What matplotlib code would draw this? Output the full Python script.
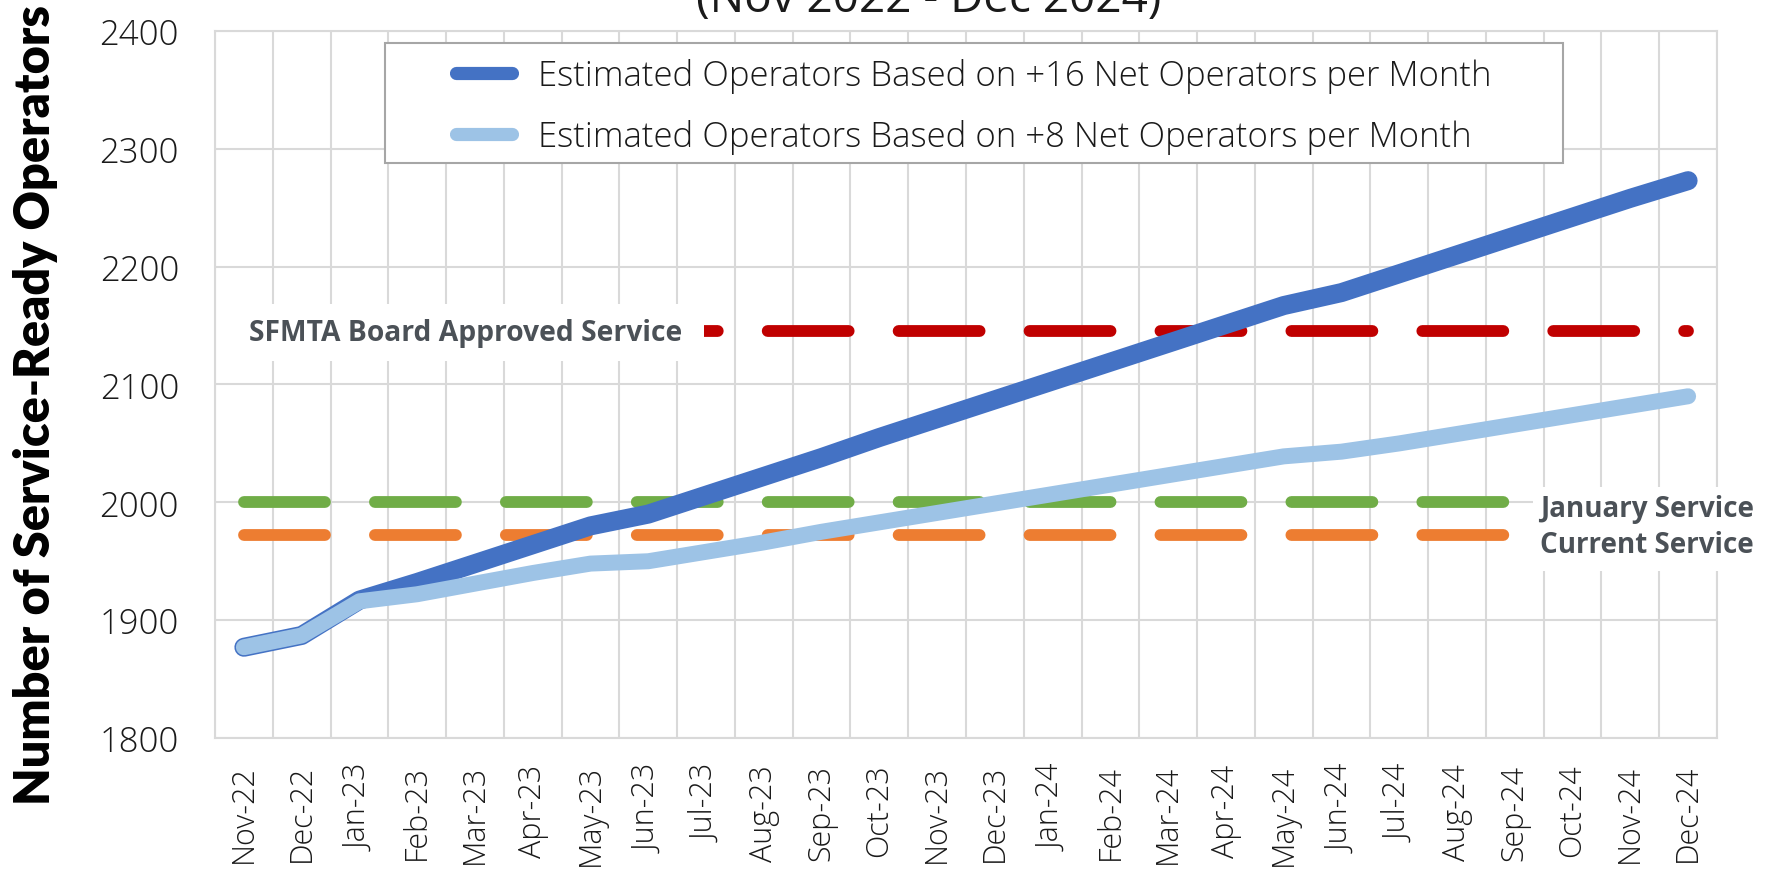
import numpy as np
import matplotlib
matplotlib.use("Agg")
import matplotlib.pyplot as plt
from matplotlib.patches import Rectangle

# data
months = ["Nov-22", "Dec-22", "Jan-23", "Feb-23", "Mar-23", "Apr-23", "May-23",
          "Jun-23", "Jul-23", "Aug-23", "Sep-23", "Oct-23", "Nov-23", "Dec-23",
          "Jan-24", "Feb-24", "Mar-24", "Apr-24", "May-24", "Jun-24", "Jul-24",
          "Aug-24", "Sep-24", "Oct-24", "Nov-24", "Dec-24"]
est_plus16 = [1877, 1887, 1917, 1932, 1948, 1964, 1980, 1990, 2006, 2022, 2038,
              2055, 2071, 2087, 2103, 2119, 2135, 2151, 2167, 2178, 2194, 2210,
              2226, 2242, 2258, 2273]
est_plus8 = [1877, 1887, 1916, 1922, 1931, 1940, 1948, 1950, 1958, 1966, 1975,
             1983, 1991, 1999, 2007, 2015, 2023, 2031, 2039, 2043, 2050, 2058,
             2066, 2074, 2082, 2090]
board_level = 2145
january_level = 2000
current_level = 1972
n_service = 23  # january / current lines stop at Sep-24

label_16 = "Estimated Operators Based on +16 Net Operators per Month"
label_8 = "Estimated Operators Based on +8 Net Operators per Month"

plt.rcParams['font.family'] = ['Open Sans', 'DejaVu Sans']

grid_c = '#d9d9d9'
text_c = '#1a1a1a'
lab_c = '#4b5157'

fig = plt.figure(figsize=(17.71, 8.70), dpi=100)
ax = fig.add_axes([0.1214, 0.1506, 0.8481, 0.8126])
x = np.arange(len(months))

dash = (0, (6.86, 4.23))
ax.plot(x, np.full(len(x), board_level), color='#C00000', lw=8.5, ls=dash,
        dash_capstyle='round', zorder=2)
ax.plot(x[:n_service], np.full(n_service, january_level), color='#70AD47',
        lw=8.5, ls=dash, dash_capstyle='round', zorder=2)
ax.plot(x[:n_service], np.full(n_service, current_level), color='#ED7D31',
        lw=8.5, ls=dash, dash_capstyle='round', zorder=2)
ax.plot(x, est_plus16, color='#4472C4', lw=13.7, solid_capstyle='round',
        solid_joinstyle='round', zorder=3, label=label_16)
ax.plot(x, est_plus8, color='#9DC3E6', lw=11.5, solid_capstyle='round',
        solid_joinstyle='round', zorder=3.1, label=label_8)

ax.set_xlim(-0.5, len(months) - 0.5)
ax.set_ylim(1800, 2400)
ax.set_yticks(np.arange(1800, 2401, 100))
ax.set_xticks(x)
ax.set_xticklabels(months, rotation=90, fontsize=22, fontweight='light', color=text_c)
ax.set_xticks(np.arange(-0.5, len(months)), minor=True)
for t in ax.get_yticklabels():
    t.set_fontsize(25)
    t.set_fontweight('light')
    t.set_color(text_c)
ax.grid(which='minor', axis='x', color=grid_c, lw=1.5)
ax.grid(which='major', axis='y', color=grid_c, lw=1.5)
ax.grid(which='major', axis='x', visible=False)
ax.tick_params(which='both', length=0)
ax.tick_params(axis='x', pad=18.5)
ax.tick_params(axis='y', pad=26)
for s in ax.spines.values():
    s.set_color(grid_c)
    s.set_linewidth(1.5)
ax.set_axisbelow(True)

# legend box
ax.add_patch(Rectangle((0.1132, 0.8133), 0.7843, 0.1697, transform=ax.transAxes,
                       facecolor='white', edgecolor='#a6a6a6', lw=1.5, zorder=4))
leg = ax.legend(loc='center', bbox_to_anchor=(0.5054, 0.894), frameon=False,
                prop={'size': 25, 'weight': 'light'}, handlelength=1.6,
                handletextpad=0.76, labelspacing=0.76)
leg.set_zorder(5)
for t in leg.get_texts():
    t.set_color(text_c)
for h in leg.get_lines():
    h.set_linewidth(9.5)
    h.set_solid_capstyle('round')

# level labels
ax.annotate('SFMTA Board Approved Service ', xy=(0.0886, board_level),
            xytext=(0, -6), textcoords='offset points', ha='left', va='baseline',
            fontsize=20.3, fontweight='bold', color=lab_c, zorder=4,
            bbox=dict(boxstyle='square,pad=0.5', fc='white', ec='none'))
ax.annotate('Current Service', xy=(22.44, current_level), xytext=(0, -12),
            textcoords='offset points', ha='left', va='baseline', fontsize=20,
            fontweight='bold', color=lab_c, zorder=4.5, annotation_clip=False,
            bbox=dict(boxstyle='square,pad=0.45', fc='white', ec='none'))
ax.annotate('January Service', xy=(22.44, january_level), xytext=(0, -10),
            textcoords='offset points', ha='left', va='baseline', fontsize=20,
            fontweight='bold', color=lab_c, zorder=4.6, annotation_clip=False,
            bbox=dict(boxstyle='square,pad=0.25', fc='white', ec='none'))

fig.text(929 / 1771, 1 - 12 / 870, '(Nov 2022 - Dec 2024)', ha='center',
         va='baseline', fontsize=33, color=text_c)
fig.text(13 / 1771, 0.5345, 'Number of Service-Ready Operators', rotation=90,
         ha='left', va='center', fontsize=35, fontweight='heavy', color='black',
         family=['Lato', 'DejaVu Sans'])

fig.savefig('out.png', dpi=100)
